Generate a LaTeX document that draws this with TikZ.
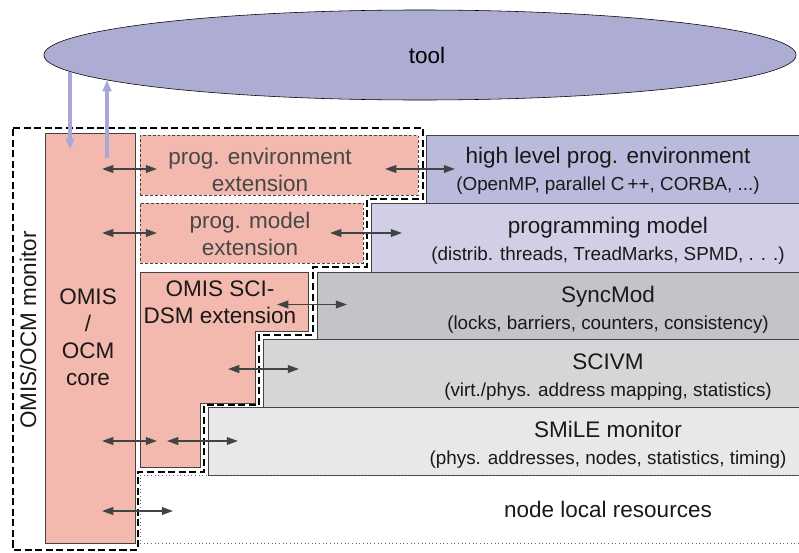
\documentclass[tikz,border=0pt]{standalone}
\usepackage{fontspec}
\setmainfont{Liberation Sans}
\usetikzlibrary{arrows.meta, positioning, shapes.geometric, fit}

\definecolor{pinkbox}{RGB}{244,185,174}
\definecolor{toolcol}{RGB}{173,172,210}
\definecolor{toolarr}{RGB}{168,168,216}
\definecolor{hlpcol}{RGB}{186,186,220}
\definecolor{pmcol}{RGB}{208,207,230}
\definecolor{synccol}{RGB}{196,195,200}
\definecolor{scivmcol}{RGB}{214,214,216}
\definecolor{smilecol}{RGB}{232,231,234}
\definecolor{edgecol}{RGB}{64,68,68}

\newcommand{\subtxt}{\fontsize{13.4}{16}\selectfont}

\tikzset{
  layer/.style={draw=edgecol, line width=0.7pt, inner sep=0pt, outer sep=0pt},
  extbox/.style={draw=edgecol, line width=0.5pt, dash pattern=on 2pt off 1.5pt,
    fill=pinkbox, inner sep=0pt, outer sep=0pt},
  coretxt/.style={align=center, font=\fontsize{16}{19.2}\selectfont, text=black!90},
  exttxt/.style={align=center, font=\fontsize{16}{19.2}\selectfont, text=black!72},
  biarrow/.style={{Triangle[length=8pt,width=5.5pt]}-{Triangle[length=8pt,width=5.5pt]},
    line width=1.2pt, draw=edgecol},
  toolarrow/.style={-{Triangle[length=8pt,width=6pt]}, line width=2.5pt, draw=toolarr},
}

\begin{document}
\begin{tikzpicture}[x=0.025cm, y=-0.025cm]
\useasboundingbox (0,0) rectangle (799,552);
% the tool on top
\node[ellipse, draw=black, line width=0.4pt, fill=toolcol, minimum width=18.8cm,
  minimum height=2.25cm, inner sep=0pt, font=\fontsize{16}{19.2}\selectfont] (tool) at (420,55) {\hspace*{10pt}tool};
% OMIS/OCM monitor border (drawn first)
\draw[line width=1pt, dash pattern=on 5pt off 2.5pt]
  (13,128) -- (423,128) -- (423,199) -- (367,199) -- (367,267) -- (313,267)
  -- (313,335) -- (259,335) -- (259,405) -- (204,405) -- (204,472)
  -- (138,472) -- (138,550) -- (13,550) -- cycle;
\node[coretxt, rotate=90] (monlbl) at (28,330) {OMIS/OCM monitor};
% layers on the right
\node[layer, fill=hlpcol, fit={(426,135) (803,203)}] (hlp) {};
\node[layer, fill=pmcol, fit={(371,203) (803,272)}] (pm) {};
\node[layer, fill=synccol, fit={(317,272) (803,339)}] (sync) {};
\node[layer, fill=scivmcol, fit={(263,339) (803,407)}] (scivm) {};
\node[layer, fill=smilecol, fit={(208,407) (803,475)}] (smile) {};
\node[layer, draw=black!60, line width=0.6pt, dotted, fit={(140,475) (803,543)}] (local) {};
\node[coretxt] (hlpt) at (608,171) {high level prog. environment\\{\subtxt (OpenMP, parallel C\,++, CORBA, ...)}};
\node[coretxt] (pmt) at (608,241) {programming model\\{\subtxt (distrib. threads, TreadMarks, SPMD, . . .)}};
\node[coretxt] (synct) at (608,310) {SyncMod\\{\subtxt (locks, barriers, counters, consistency)}};
\node[coretxt] (scivmt) at (608,377) {SCIVM\\{\subtxt (virt./phys. address mapping, statistics)}};
\node[coretxt] (smilet) at (608,445) {SMiLE monitor\\{\subtxt (phys. addresses, nodes, statistics, timing)}};
\node[coretxt] (localt) at (608,509) {node local resources};
% monitor parts
\node[layer, fill=pinkbox, line width=0.6pt, fit={(45,133) (135,543)}] (core) {};
\node[coretxt] (coret) at (88,337) {OMIS\\/\\OCM\\core};
\node[extbox, fit={(140,135) (418,195)}] (penvx) {};
\node[exttxt] (penvxt) at (260,170) {prog. environment\\extension};
\node[extbox, fit={(140,203) (363,263)}] (pmodx) {};
\node[exttxt] (pmodxt) at (250,234) {prog. model\\extension};
\draw[draw=edgecol, line width=0.6pt, fill=pinkbox]
  (140,272) -- (308,272) -- (308,331) -- (255,331) -- (255,403)
  -- (200,403) -- (200,467) -- (140,467) -- cycle;
\node[coretxt] (dsmt) at (220,302) {OMIS SCI-\\DSM extension};
% connections
\draw[toolarrow] ([shift={(-350,16.5)}]tool.center) -- ([shift={(-350,16.5)}]tool.center |- core.north);
\draw[toolarrow] ([shift={(-313,25)}]tool.center |- core.north) -- ([shift={(-313,25)}]tool.center);
\draw[biarrow] (core.east |- hlp.west) +(-33,0) -- +(22,0);
\draw[biarrow] (hlp.west) +(-41,0) -- +(29,0);
\draw[biarrow] (core.east |- pmodx.west) +(-33,0) -- +(22,0);
\draw[biarrow] (pm.west |- pmodx.west) +(-41,0) -- +(31,0);
\draw[biarrow] (sync.west) +(-40,-1) -- +(30,-1);
\draw[biarrow] (scivm.west) +(-35,-4) -- +(36,-4);
\draw[biarrow] (core.east |- smile.west) +(-33,0) -- +(22,0);
\draw[biarrow] (smile.west) +(-41,0) -- +(30,0);
\draw[biarrow] (core.east |- local.west) +(-33,2) -- +(38,2);
\end{tikzpicture}
\end{document}
